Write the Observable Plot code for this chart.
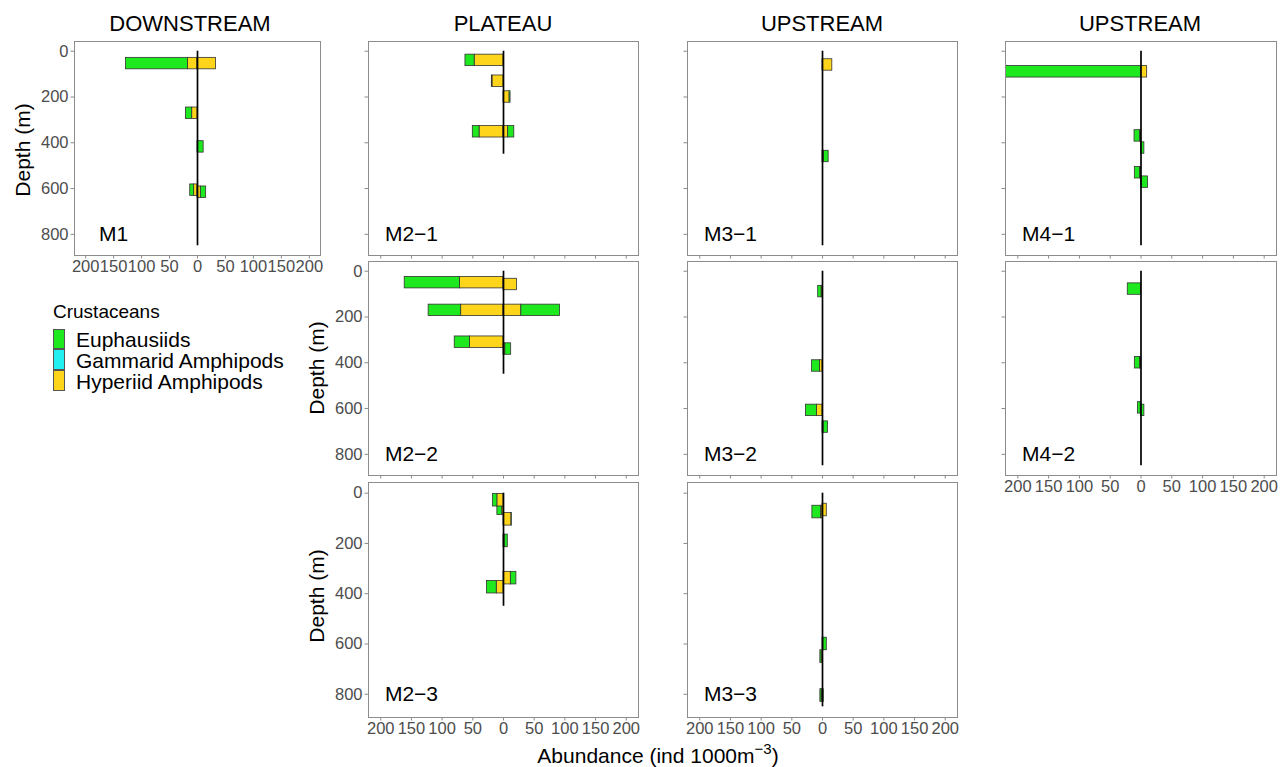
<!DOCTYPE html>
<html>
<head>
<meta charset="utf-8">
<script src="https://cdn.jsdelivr.net/npm/d3@7"></script>
<script src="https://cdn.jsdelivr.net/npm/@observablehq/plot@0.6"></script>
<style>
  body { margin: 0; background: #fff; font-family: "Liberation Sans", Arial, Helvetica, sans-serif; }
  #root { position: relative; width: 1282px; height: 767px; overflow: hidden; background: #fff; }
  .abs { position: absolute; white-space: nowrap; line-height: 1; color: #000; }
  .panel { position: absolute; }
</style>
</head>
<body>
<div id="root"></div>
<script>
// ---------------- DATA ----------------
const taxa = ["Euphausiids", "Gammarid Amphipods", "Hyperiid Amphipods"];
const taxaColors = ["#1ee81e", "#22f0f0", "#ffd51c"];
// stacking order from the zero line outward
const stackOrder = [2, 1, 0];
const regions = ["DOWNSTREAM", "PLATEAU", "UPSTREAM", "UPSTREAM"];
const xTicks = [-200, -150, -100, -50, 0, 50, 100, 150, 200];
const yTicks = [0, 200, 400, 600, 800];

// each row: [side (-1 = left, +1 = right), net mid-depth (m), Euphausiids, Gammarid Amphipods, Hyperiid Amphipods]
const M1 = [
  [-1, 54, 111, 0, 17],
  [ 1, 54, 0, 0, 33],
  [-1, 271, 11, 0, 9.5],
  [ 1, 418, 10, 0, 1],
  [-1, 607, 7, 0, 6],
  [ 1, 616, 9.5, 0, 6]
];
const M2_1 = [
  [-1, 40, 15, 0, 47],
  [-1, 131, 1, 0, 18],
  [ 1, 200, 1.5, 0, 10],
  [-1, 352, 11, 0, 39],
  [ 1, 352, 10, 0, 7.6]
];
const M2_2 = [
  [-1, 50, 90, 0, 71],
  [ 1, 58, 0, 0, 22],
  [-1, 171, 53, 0, 69],
  [ 1, 171, 63, 0, 29],
  [-1, 310, 25, 0, 54.5],
  [ 1, 340, 9.5, 0, 3]
];
const M2_3 = [
  [-1, 62, 8, 0, 2],
  [-1, 28, 7, 0, 10],
  [ 1, 104, 0.5, 0, 13],
  [ 1, 190, 5, 0, 2],
  [ 1, 338, 9, 0, 12],
  [-1, 374, 16, 0, 11]
];
const M3_1 = [
  [ 1, 60, 0, 0, 16],
  [ 1, 460, 7.5, 0, 2.5]
];
const M3_2 = [
  [-1, 89, 5.5, 0, 1.5],
  [-1, 414, 13, 0, 4],
  [-1, 608, 18, 0, 9],
  [ 1, 681, 7, 0, 2]
];
const M3_3 = [
  [-1, 75, 14, 0, 2.5],
  [ 1, 67, 0, 0, 7],
  [ 1, 600, 5.5, 0, 1.5],
  [-1, 650, 2, 0, 1.5],
  [-1, 805, 2, 0, 1.5],
  [ 1, 805, 1, 0, 1]
];
const M4_1 = [
  [-1, 90, 240, 0, 0],
  [ 1, 90, 0, 0, 10],
  [-1, 370, 9, 0, 1.5],
  [ 1, 423, 5, 0, 0.5],
  [-1, 531, 8.5, 0, 1.5],
  [ 1, 572, 10, 0, 1.5]
];
const M4_2 = [
  [-1, 78, 21.5, 0, 0],
  [-1, 400, 8.5, 0, 1.5],
  [-1, 597, 4.5, 0, 0.5],
  [ 1, 608, 5, 0, 0.5]
];
// zero-line extent (m) per station
const stationNames = ["M1", "M2−1", "M2−2", "M2−3", "M3−1", "M3−2", "M3−3", "M4−1", "M4−2"];
const stationData  = [M1, M2_1, M2_2, M2_3, M3_1, M3_2, M3_3, M4_1, M4_2];
const lineDepth    = [850, 450, 450, 450, 850, 850, 850, 850, 850];
const netHeight = 50; // vertical thickness of each net bar (m)

// ---------------- LAYOUT ----------------
const cols = [ {L: 74, W: 246}, {L: 368, W: 270}, {L: 687, W: 270}, {L: 1005, W: 271} ];
const rows = [ {T: 41, H: 214}, {T: 261, H: 214}, {T: 482, H: 235} ];
// station index -> [col, row, show x labels, show y labels]
const place = [
  [0, 0, true, true],
  [1, 0, false, false],
  [1, 1, false, true],
  [1, 2, true, true],
  [2, 0, false, false],
  [2, 1, false, false],
  [2, 2, true, false],
  [3, 0, false, false],
  [3, 1, true, false]
];

const FONT = '"Liberation Sans", Arial, Helvetica, sans-serif';
const root = document.getElementById("root");

function buildRects(rowsData) {
  const out = [];
  rowsData.forEach((r, i) => {
    const [side, depth] = r;
    let cum = 0;
    for (const k of stackOrder) {
      const v = r[2 + k];
      if (v > 0) {
        out.push({
          order: i,
          taxon: taxa[k],
          x1: side * cum,
          x2: side * (cum + v),
          y1: depth - netHeight / 2,
          y2: depth + netHeight / 2
        });
      }
      cum += v;
    }
  });
  return out;
}

const ml = 60, mr = 6, mt = 6, mb = 30;

stationData.forEach((rowsData, si) => {
  const [ci, ri, showX, showY] = place[si];
  const c = cols[ci], r = rows[ri];
  const rects = buildRects(rowsData);
  const chart = Plot.plot({
    width: c.W + ml + mr,
    height: r.H + mt + mb,
    marginLeft: ml, marginRight: mr, marginTop: mt, marginBottom: mb,
    style: { background: "transparent", fontFamily: FONT, overflow: "visible" },
    x: { domain: [-220, 220] },
    y: { domain: [-42.5, 892.5], reverse: true },
    color: { domain: taxa, range: taxaColors },
    marks: [
      Plot.axisX({
        ticks: xTicks, tickSize: 3.5, tickPadding: 1.5, stroke: "#8a8a8a", fill: "#4d4d4d",
        fontSize: 16.5, label: null,
        tickFormat: showX ? (d => String(Math.abs(d))) : (() => "")
      }),
      Plot.axisY({
        ticks: yTicks, tickSize: 3.5, tickPadding: 2.5, stroke: "#8a8a8a", fill: "#4d4d4d",
        fontSize: 16.5, label: null,
        tickFormat: showY ? (d => String(d)) : (() => "")
      }),
      Plot.rect(rects, {
        x1: "x1", x2: "x2", y1: "y1", y2: "y2", fill: "taxon",
        stroke: "#333", strokeWidth: 0.8, clip: true
      }),
      Plot.ruleX([0], { y1: 0, y2: lineDepth[si], stroke: "#000", strokeWidth: 1.7 }),
      Plot.text([stationNames[si]], {
        x: -150, y: 800, text: d => d, fontSize: 21, fill: "#000",
        fontFamily: FONT, textAnchor: "middle"
      }),
      Plot.frame({ stroke: "#8c8c8c", strokeWidth: 1 })
    ]
  });
  chart.classList.add("panel");
  chart.style.left = (c.L - ml) + "px";
  chart.style.top = (r.T - mt) + "px";
  root.appendChild(chart);
});

// ---------------- TEXT (titles, axis titles, legend) ----------------
function addText(txt, left, top, size, extra) {
  const d = document.createElement("div");
  d.className = "abs";
  d.innerHTML = txt;
  d.style.left = left + "px";
  d.style.top = top + "px";
  d.style.fontSize = size + "px";
  if (extra) Object.assign(d.style, extra);
  root.appendChild(d);
  return d;
}
// column titles (centered)
const titleCenters = [190, 503, 822, 1140];
regions.forEach((t, i) => {
  addText(t, titleCenters[i], 13, 22, { transform: "translateX(-50%)" });
});
// y axis titles (rotated)
const depthTitles = [[22, 150], [316, 368], [316, 596]];
depthTitles.forEach(([x, y]) => {
  addText("Depth (m)", x, y, 21, { transform: "translate(-50%,-50%) rotate(-90deg)" });
});
// x axis title
addText('Abundance (ind 1000m<sup style="font-size:15px;vertical-align:0;position:relative;top:-9px">−3</sup>)',
  658, 745, 21, { transform: "translateX(-50%)" });

// legend
addText("Crustaceans", 53, 302, 19);
const keyTops = [328.5, 349.3, 370];
taxa.forEach((t, i) => {
  const k = document.createElement("div");
  k.className = "abs";
  Object.assign(k.style, {
    left: "53px", top: keyTops[i] + "px", width: "12px", height: "20.7px",
    background: taxaColors[i], boxSizing: "border-box", border: "0.8px solid #555"
  });
  root.appendChild(k);
  addText(t, 76, keyTops[i] + 0.5, 21);
});
</script>
</body>
</html>
